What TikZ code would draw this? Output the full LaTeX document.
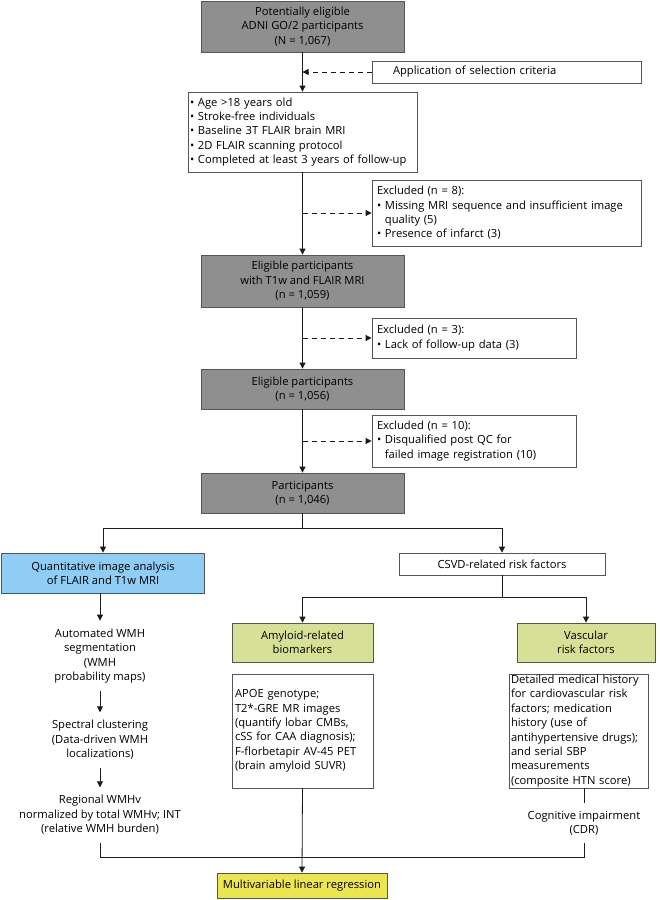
\documentclass[tikz,border=0pt]{standalone}
\usepackage{fontspec}
\setmainfont{Open Sans}
\usetikzlibrary{arrows.meta}
\definecolor{boxgray}{HTML}{8F8F8F}
\definecolor{edge}{HTML}{555555}
\definecolor{lineblack}{HTML}{1A1A1A}
\definecolor{qblue}{HTML}{8FCDF5}
\definecolor{qgreen}{HTML}{D6E096}
\definecolor{qyellow}{HTML}{ECE550}
\newcommand\fs{\fontsize{11.2}{14.4}\selectfont}
\newcommand\hang{\hphantom{•\ }}
\tikzset{
  base/.style={draw=edge, line width=0.8pt, font=\fs, inner sep=0pt, align=center, text=black},
  graybox/.style={base, fill=boxgray},
  plainbox/.style={base, fill=white},
  bluebox/.style={base, fill=qblue},
  greenbox/.style={base, fill=qgreen},
  yellowbox/.style={base, fill=qyellow},
  leftbox/.style={plainbox, align=left},
  plaintext/.style={font=\fs, align=center, inner xsep=0pt, inner ysep=8pt},
  arr/.style={draw=lineblack, line width=0.8pt, -{Triangle[length=6pt,width=6pt]}},
  darr/.style={arr, dash pattern=on 5pt off 4pt},
  conn/.style={draw=lineblack, line width=0.8pt}
}
\begin{document}
\begin{tikzpicture}[x=1pt,y=-1pt]
\useasboundingbox (0,0) rectangle (660,900);
\fill[white] (0,0) rectangle (660,900);

\node[graybox, minimum width=203pt, minimum height=51pt] (top) at (302.5,26.5)
  {Potentially eligible\\ADNI GO/2 participants\\(N = 1,067)};
\node[leftbox, text width=227pt, inner xsep=21pt, minimum height=22pt] (app) at (506.5,72)
  {Application of selection criteria};
\node[leftbox, text width=225pt, inner xsep=2pt, minimum height=80pt] (crit) at (302.5,132)
  {• Age >18 years old\\• Stroke-free individuals\\• Baseline 3T FLAIR brain MRI\\• 2D FLAIR scanning protocol\\• Completed at least 3 years of follow-up};
\node[leftbox, text width=259pt, inner xsep=5pt, minimum height=66pt] (exc8) at (506.5,213)
  {Excluded (n = 8):\\• Missing MRI sequence and insufficient image\\\hang quality (5)\\• Presence of infarct (3)};
\node[graybox, minimum width=203pt, minimum height=52pt] (elig2) at (302.5,281)
  {Eligible participants\\with T1w and FLAIR MRI\\(n = 1,059)};
\node[leftbox, text width=194pt, inner xsep=5pt, minimum height=40pt] (exc3) at (474,338)
  {Excluded (n = 3):\\• Lack of follow-up data (3)};
\node[graybox, minimum width=203pt, minimum height=40pt] (elig3) at (302.5,389)
  {Eligible participants\\(n = 1,056)};
\node[leftbox, text width=194pt, inner xsep=5pt, minimum height=52pt] (exc10) at (474,441)
  {Excluded (n = 10):\\• Disqualified post QC for\\\hang failed image registration (10)};
\node[graybox, minimum width=203pt, minimum height=40pt] (part) at (302.5,493)
  {Participants\\(n = 1,046)};

\node[bluebox, minimum width=203pt, minimum height=40pt] (quant) at (103,573)
  {Quantitative image analysis\\of FLAIR and T1w MRI};
\node[plainbox, minimum width=206pt, minimum height=22pt] (csvd) at (502,564)
  {CSVD-related risk factors};
\node[greenbox, minimum width=141pt, minimum height=39pt] (amy) at (302.5,642.5)
  {Amyloid-related\\biomarkers};
\node[greenbox, minimum width=138pt, minimum height=39pt] (vasc) at (586,642.5)
  {Vascular\\risk factors};
\node[leftbox, text width=135pt, inner xsep=3pt, minimum height=114pt] (amyt) at (302.5,731)
  {APOE genotype;\\T2*-GRE MR images\\(quantify lobar CMBs,\\cSS for CAA diagnosis);\\F-florbetapir AV-45 PET\\(brain amyloid SUVR)};
\node[leftbox, text width=135pt, inner xsep=2pt, minimum height=114pt] (vasct) at (578.5,731)
  {Detailed medical history\\for cardiovascular risk\\factors; medication\\history (use of\\antihypertensive drugs);\\and serial SBP\\measurements\\(composite HTN score)};

\node[plaintext] (auto) at (100,656)
  {Automated WMH\\segmentation\\(WMH\\probability maps)};
\node[plaintext] (spec) at (100,740)
  {Spectral clustering\\(Data-driven WMH\\localizations)};
\node[plaintext] (reg) at (100,815)
  {Regional WMHv\\normalized by total WMHv; INT\\(relative WMH burden)};
\node[plaintext] (cog) at (584,823)
  {Cognitive impairment\\(CDR)};
\node[yellowbox, minimum width=170pt, minimum height=25pt] (yel) at (302,885.5)
  {Multivariable linear regression};

% main flow
\draw[arr] (top.south) -- (crit.north);
\draw[arr] (crit.south) -- (elig2.north);
\draw[arr] (elig2.south) -- (elig3.north);
\draw[arr] (elig3.south) -- (part.north);
% dashed side arrows
\draw[darr] (app.west) -- (app.west -| top.south);
\draw[darr] (exc8.west -| crit.south) -- (exc8.west);
\draw[darr] (exc3.west -| elig2.south) -- (exc3.west);
\draw[darr] (exc10.west -| elig3.south) -- (exc10.west);
% branches
\coordinate (b1) at (302.5,528);
\draw[conn] (part.south) -- (b1);
\draw[arr] (b1) -| (quant.north);
\draw[arr] (b1) -| (csvd.north);
\coordinate (b2) at (502,597);
\draw[conn] (csvd.south) -- (b2);
\draw[arr] (b2) -| (amy.north);
\draw[arr] (b2) -| (vasc.north);
% left column
\draw[arr] (quant.south -| auto.north) -- (auto.north);
\draw[arr] (auto.south) -- (spec.north);
\draw[arr] (spec.south) -- (reg.north);
% right column
\draw[conn] (vasct.south -| cog.north) -- (cog.north);
% join to regression
\coordinate (b3) at (302.5,857);
\draw[conn] (reg.south) |- (cog.south |- b3) -- (cog.south);
\draw[arr] (amyt.south) -- (yel.north);
\end{tikzpicture}
\end{document}
